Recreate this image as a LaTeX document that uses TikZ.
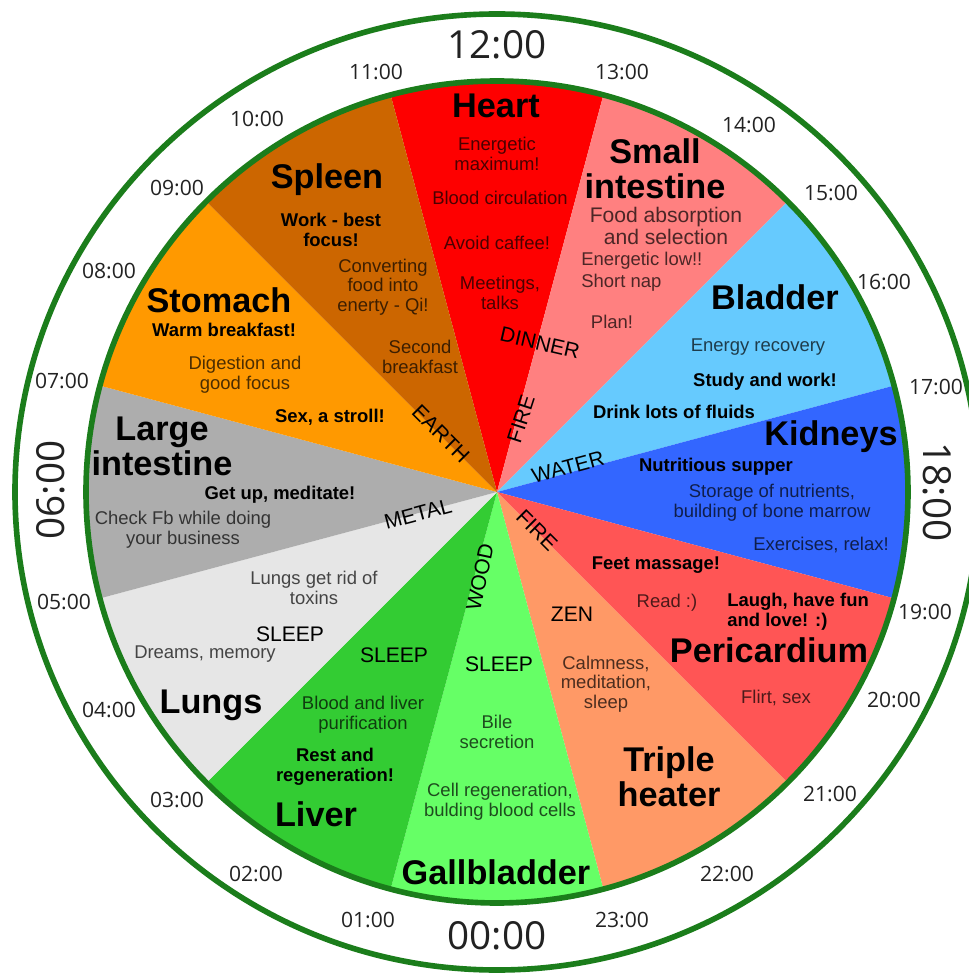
\documentclass[tikz,border=0pt]{standalone}
\usepackage{fontspec}
\setmainfont{Liberation Sans}
\newfontfamily\hourfont{Open Sans}
\usepackage{tikz}
\usetikzlibrary{positioning}
\definecolor{ringgreen}{HTML}{1B7D1B}
\definecolor{hourink}{HTML}{222222}
\definecolor{heartred}{HTML}{FE0000}
\definecolor{smallpink}{HTML}{FF8080}
\definecolor{bladderblue}{HTML}{66CAFE}
\definecolor{kidneyblue}{HTML}{3366FF}
\definecolor{pericred}{HTML}{FF5555}
\definecolor{tripleorange}{HTML}{FF9966}
\definecolor{gallgreen}{HTML}{66FF66}
\definecolor{livergreen}{HTML}{33CC33}
\definecolor{lunggray}{HTML}{E6E6E6}
\definecolor{largegray}{HTML}{ADADAD}
\definecolor{stomachorange}{HTML}{FF9900}
\definecolor{spleenbrown}{HTML}{CC6600}

\begin{document}
\begin{tikzpicture}[x=0.2mm, y=0.2mm,
    organ/.style={font=\fontsize{19.5}{20}\selectfont\bfseries,
        align=center, inner sep=0pt},
    note/.style={font=\fontsize{10.5}{11.2}\selectfont, align=center,
        inner sep=0pt, text opacity=0.7},
    bignote/.style={note, font=\fontsize{12}{12.6}\selectfont},
    tip/.style={font=\fontsize{10.5}{11.2}\selectfont\bfseries,
        align=center, inner sep=0pt},
    element/.style={font=\fontsize{12}{13}\selectfont, inner sep=0pt},
    hour/.style={font=\hourfont\fontsize{12}{13}\selectfont,
        text=hourink, inner sep=0pt},
    bighour/.style={font=\hourfont\fontsize{22}{24}\selectfont,
        text=hourink, inner sep=0pt},
    ring/.style={draw=ringgreen, line width=3.2pt}]
  \useasboundingbox (-497,-482) rectangle (471,492);

  \foreach \a/\c in {90/heartred, 60/smallpink, 30/bladderblue,
      0/kidneyblue, -30/pericred, -60/tripleorange, -90/gallgreen,
      -120/livergreen, -150/lunggray, 180/largegray, 150/stomachorange,
      120/spleenbrown}
    \fill[\c] (0,0) -- (\a-15:411)
      arc[start angle=\a-15, end angle=\a+15, radius=411] -- cycle;
  \draw[ring] (0,0) circle[radius=411];
  \draw[ring] (0,0) ellipse[x radius=482, y radius=478];

  \node[bighour] (h12) at (0,447) {12:00};
  \node[bighour] (h00) at (0,-444) {00:00};
  \node[bighour, rotate=90] (h06) at (-446,2) {06:00};
  \node[bighour, rotate=-90] (h18) at (440,0) {18:00};
  \foreach \t/\x/\y in {11/-121/420, 10/-240/373, 09/-320/304,
      08/-388/221, 07/-435/111, 05/-433/-110, 04/-388/-218,
      03/-320/-308, 02/-241/-382, 01/-129/-428, 23/125/-428,
      22/230/-382, 21/333/-302, 20/397/-208, 19/428/-120,
      17/439/105, 16/387/210, 15/334/299, 14/252/367, 13/125/420}
    \node[hour] (h\t) at (\x,\y) {\t:00};

  \node[organ] (heart) at (-1,386) {Heart};
  \node[note] (heartmax) at (0,338) {Energetic\\maximum!};
  \node[note] (heartblood) at (3,294) {Blood circulation};
  \node[note] (heartcaffee) at (0,249) {Avoid caffee!};
  \node[note] (heartmeet) at (3,199) {Meetings,\\talks};
  \node[element, rotate=-13] (dinner) at (43,149) {DINNER};
  \node[element, rotate=72] (firetop) at (24,73) {FIRE};

  \node[organ] (smallint) at (158,323) {Small\\intestine};
  \node[bignote] (smallfood) at (169,266) {Food absorption\\and selection};
  \node[note, anchor=west] (smalllow) at (84,231) {Energetic low!!};
  \node[note, anchor=west] (smallnap) at (84,209) {Short nap};
  \node[note] (smallplan) at (115,170) {Plan!};

  \node[organ] (bladder) at (278,195) {Bladder};
  \node[note] (bladderrec) at (261,145) {Energy recovery};
  \node[tip] (bladderstudy) at (268,110) {Study and work!};
  \node[tip] (bladderdrink) at (177,80) {Drink lots of fluids};
  \node[element, rotate=15] (water) at (71,25) {WATER};

  \node[organ] (kidneys) at (334,55) {Kidneys};
  \node[tip] (kidsupper) at (219,25) {Nutritious supper};
  \node[note] (kidstore) at (275,-11) {Storage of nutrients,\\building of bone marrow};
  \node[note] (kidrelax) at (324,-53) {Exercises, relax!};

  \node[element, rotate=-45] (firelow) at (40,-38) {FIRE};
  \node[tip] (perifeet) at (159,-73) {Feet massage!};
  \node[note] (periread) at (170,-111) {Read :)};
  \node[tip, align=left, anchor=west] (perilaugh) at (230,-120) {Laugh, have fun\\and love! :)};
  \node[organ] (pericardium) at (272,-158) {Pericardium};
  \node[note] (periflirt) at (279,-206) {Flirt, sex};

  \node[element] (zen) at (75,-122) {ZEN};
  \node[note] (triplecalm) at (109,-192) {Calmness,\\meditation,\\sleep};
  \node[organ] (triple) at (172,-285) {Triple\\heater};

  \node[element, rotate=78] (wood) at (-17,-85) {WOOD};
  \node[element] (gallsleep) at (2,-172) {SLEEP};
  \node[note] (gallbile) at (0,-240) {Bile\\secretion};
  \node[note] (gallcell) at (3,-310) {Cell regeneration,\\bulding blood cells};
  \node[organ] (gallbladder) at (-1,-380) {Gallbladder};

  \node[element] (liversleep) at (-103,-163) {SLEEP};
  \node[note] (liverblood) at (-134,-223) {Blood and liver\\purification};
  \node[tip] (liverrest) at (-162,-275) {Rest and\\regeneration!};
  \node[organ] (liver) at (-181,-322) {Liver};

  \node[note] (lungtox) at (-183,-96) {Lungs get rid of\\toxins};
  \node[element] (lungsleep) at (-207,-142) {SLEEP};
  \node[note] (lungdream) at (-292,-162) {Dreams, memory};
  \node[organ] (lungs) at (-286,-213) {Lungs};
  \node[element, rotate=15] (metal) at (-79,-22) {METAL};

  \node[organ] (largeint) at (-335,46) {Large\\intestine};
  \node[tip] (largeup) at (-217,-3) {Get up, meditate!};
  \node[note] (largefb) at (-314,-38) {Check Fb while doing\\your business};

  \node[organ] (stomach) at (-278,192) {Stomach};
  \node[tip] (stomwarm) at (-273,162) {Warm breakfast!};
  \node[note] (stomdig) at (-252,117) {Digestion and\\good focus};
  \node[tip] (stomsex) at (-167,75) {Sex, a stroll!};
  \node[element, rotate=-45] (earth) at (-56,58) {EARTH};

  \node[organ] (spleen) at (-170,312) {Spleen};
  \node[tip] (spleenwork) at (-166,262) {Work - best\\focus!};
  \node[note] (spleenqi) at (-114,205) {Converting\\food into\\enerty - Qi!};
  \node[note] (spleensecond) at (-77,135) {Second\\breakfast};
\end{tikzpicture}
\end{document}
